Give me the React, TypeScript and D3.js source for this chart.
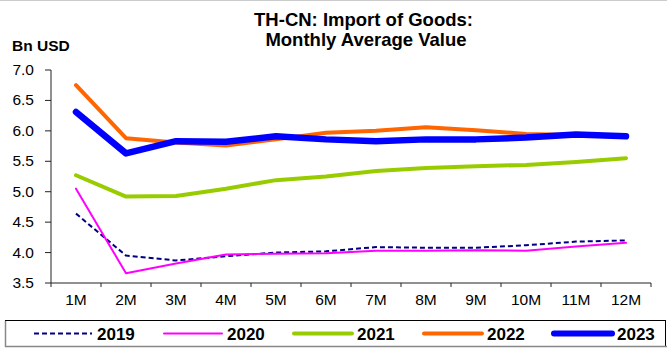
import React from "react";
import * as d3 from "d3";

const months = ["1M","2M","3M","4M","5M","6M","7M","8M","9M","10M","11M","12M"];
const v2019 = [4.64,3.95,3.87,3.94,4.00,4.02,4.09,4.08,4.08,4.12,4.18,4.20];
const v2020 = [5.05,3.66,3.82,3.97,3.98,3.99,4.03,4.03,4.04,4.03,4.10,4.16];
const v2021 = [5.27,4.92,4.93,5.05,5.19,5.25,5.34,5.39,5.42,5.44,5.49,5.55];
const v2022 = [6.75,5.88,5.81,5.76,5.86,5.97,6.00,6.06,6.01,5.95,5.93,5.90];
const v2023 = [6.31,5.63,5.83,5.82,5.91,5.86,5.83,5.86,5.86,5.89,5.94,5.91];
const yTicks = [3.5,4.0,4.5,5.0,5.5,6.0,6.5,7.0];

const seriesList = [
  { name: "2019", values: v2019, color: "#000080", width: 2, dash: "5,3" },
  { name: "2020", values: v2020, color: "#FF00FF", width: 2, dash: "" },
  { name: "2021", values: v2021, color: "#99CC00", width: 4, dash: "" },
  { name: "2022", values: v2022, color: "#FF6600", width: 4, dash: "" },
  { name: "2023", values: v2023, color: "#0000FF", width: 6.5, dash: "" },
];

export default function App() {
  const W = 667, H = 349;
  const left = 51, right = 651, top = 70, bottom = 283;
  const x = d3.scaleBand<string>().domain(months).range([left, right]);
  const y = d3.scaleLinear().domain([3.5, 7.0]).range([bottom, top]);
  const line = d3.line<number>()
    .x((_, i) => (x(months[i]) as number) + x.bandwidth() / 2)
    .y((d) => y(d));
  const font = "'Liberation Sans', Arial, sans-serif";
  const legendX = [34, 164, 294, 424, 554];
  return (
    <svg width={W} height={H} style={{ position: "absolute", left: 0, top: 0 }} fontFamily={font}>
      <rect x={0} y={0} width={W} height={H} fill="#fff" />
      <line x1={0} x2={W} y1={0.5} y2={0.5} stroke="#ccc" />
      <text x={363.5} y={26} textAnchor="middle" fontWeight="bold" fontSize={18.5}>TH-CN: Import of Goods:</text>
      <text x={366} y={46} textAnchor="middle" fontWeight="bold" fontSize={18.5}>Monthly Average Value</text>
      <text x={12} y={51} fontWeight="bold" fontSize={15.5}>Bn USD</text>
      {/* y axis */}
      <line x1={left} x2={left} y1={top} y2={bottom} stroke="#222" strokeWidth={1} />
      {yTicks.map((t) => (
        <g key={t}>
          <line x1={left - 6} x2={left} y1={y(t)} y2={y(t)} stroke="#222" />
          <text x={34} y={y(t) + 5} textAnchor="end" fontSize={15.5}>{t.toFixed(1)}</text>
        </g>
      ))}
      {/* x axis */}
      <line x1={left} x2={right} y1={bottom} y2={bottom} stroke="#222" strokeWidth={1} />
      {months.map((m) => (
        <line key={"t" + m} x1={x(m)} x2={x(m)} y1={bottom} y2={bottom + 4} stroke="#222" />
      ))}
      <line x1={right} x2={right} y1={bottom} y2={bottom + 4} stroke="#222" />
      {months.map((m) => (
        <text key={m} x={(x(m) as number) + x.bandwidth() / 2} y={305} textAnchor="middle" fontSize={15.5}>{m}</text>
      ))}
      {seriesList.map((s) => (
        <path key={s.name} d={line(s.values) || ""} fill="none" stroke={s.color} strokeWidth={s.width}
          strokeDasharray={s.dash || undefined} strokeLinejoin="round" strokeLinecap={s.dash ? "butt" : "round"} />
      ))}
      {/* legend */}
      <rect x={5.5} y={320.5} width={660} height={26} fill="#fff" stroke="#000" strokeWidth={1} />
      <line x1={5.5} x2={5.5} y1={321} y2={347} stroke="#888" strokeWidth={1.5} />
      <line x1={5} x2={667} y1={346.5} y2={346.5} stroke="#888" strokeWidth={1.5} />
      {seriesList.map((s, i) => (
        <g key={"l" + s.name}>
          <line x1={legendX[i]} x2={legendX[i] + 58} y1={333.5} y2={333.5} stroke={s.color}
            strokeWidth={Math.min(s.width, 6)} strokeDasharray={s.dash || undefined}
            strokeLinecap={s.dash ? "butt" : "round"} />
          <text x={legendX[i] + 63} y={339.5} fontWeight="bold" fontSize={17}>{s.name}</text>
        </g>
      ))}
    </svg>
  );
}
